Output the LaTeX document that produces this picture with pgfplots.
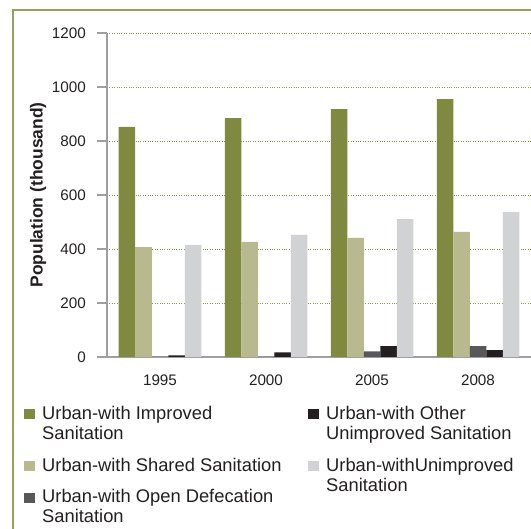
\documentclass[border=0pt]{standalone}
\usepackage{fontspec}
\setmainfont{Liberation Sans}
\usepackage{pgfplots}
\pgfplotsset{compat=1.18}

\definecolor{cImproved}{HTML}{7F8940}
\definecolor{cShared}{HTML}{B8B98E}
\definecolor{cOpen}{HTML}{58585A}
\definecolor{cOther}{HTML}{231F20}
\definecolor{cUnimp}{HTML}{D1D2D4}
\definecolor{cGrid}{HTML}{8F9A50}
\definecolor{cAxis}{HTML}{9D9FA2}
\definecolor{cFrame}{HTML}{98A05C}
\definecolor{cText}{HTML}{231F20}

\pgfplotsset{
  sqleg/.style={legend image code/.code={\fill[##1, draw=none] (0bp,0bp) rectangle (11bp,10bp);}},
  legfont/.style={font=\fontsize{18.4}{20}\selectfont},
}

\begin{document}
\begin{tikzpicture}
\useasboundingbox (0,0) rectangle (531bp,529bp);
\draw[cFrame, line width=2bp] (13bp,0bp) -- (13bp,519bp) -- (531bp,519bp);

\begin{axis}[
    at={(107bp,172bp)}, anchor=south west,
    scale only axis,
    width=424bp, height=324bp,
    ybar=0pt, bar width=16.5bp,
    xmin=-0.5, xmax=3.5,
    ymin=0, ymax=1200,
    xtick={0,1,2,3},
    xticklabels={1995,2000,2005,2008},
    ytick={0,200,400,600,800,1000,1200},
    axis x line=bottom, axis y line=left,
    axis line style={-, cAxis, line width=2bp},
    tick align=outside,
    major tick length=10bp,
    xtick style={draw=none},
    ytick style={cAxis, line width=2bp},
    ymajorgrids,
    grid style={cGrid, dotted, line width=0.8bp},
    tick label style={font=\fontsize{15.3}{18}\selectfont, text=cText},
    /pgf/number format/assume math mode=true,
    /pgf/number format/1000 sep={},
    yticklabel style={anchor=east, inner sep=0pt, xshift=-11bp},
    xticklabel style={anchor=center, inner sep=0pt, yshift=-13.2bp},
    ylabel={\textbf{Population (thousand)}},
    ylabel style={font=\fontsize{17.5}{20}\selectfont, text=cText,
                  at={(axis description cs:-0.1627,0.5)}, anchor=center},
    sqleg,
    legend style={at={(axis description cs:-0.1958,-0.145)}, anchor=north west,
                  draw=none, fill=none,
                  inner sep=0pt, row sep=13bp, column sep=5bp,
                  legfont, text=cText,
                  cells={anchor=base west, inner sep=0pt}},
  ]
  \addplot[fill=cImproved, draw=none, bar shift=-33bp] coordinates {(0,852) (1,885) (2,918) (3,955)};
  \addplot[fill=cShared, draw=none, bar shift=-16.5bp] coordinates {(0,407) (1,426) (2,441) (3,463)};
  \addplot[fill=cOpen, draw=none, bar shift=0bp] coordinates {(0,0) (1,0) (2,21) (3,40)};
  \addplot[fill=cOther, draw=none, bar shift=16.5bp] coordinates {(0,6) (1,17) (2,40) (3,25)};
  \addplot[fill=cUnimp, draw=none, bar shift=33bp] coordinates {(0,415) (1,452) (2,511) (3,537)};
  \legend{}
\end{axis}

\begin{axis}[
    at={(107bp,172bp)}, anchor=south west,
    scale only axis,
    width=424bp, height=324bp,
    xmin=0, xmax=1, ymin=0, ymax=1,
    hide axis,
    sqleg,
    legend style={at={(axis description cs:-0.1958,-0.145)}, anchor=north west,
                  draw=none, fill=none,
                  inner sep=0pt, row sep=13bp, column sep=5bp,
                  legfont, text=cText,
                  cells={anchor=base west, inner sep=0pt}},
  ]
  \addlegendimage{fill=cImproved, yshift=20bp}
  \addlegendentry[align=left]{Urban-with Improved\\Sanitation}
  \addlegendimage{fill=cShared}
  \addlegendentry{Urban-with Shared Sanitation}
  \addlegendimage{fill=cOpen, yshift=20bp}
  \addlegendentry[align=left]{Urban-with Open Defecation\\Sanitation}
\end{axis}

\begin{axis}[
    at={(107bp,172bp)}, anchor=south west,
    scale only axis,
    width=424bp, height=324bp,
    xmin=0, xmax=1, ymin=0, ymax=1,
    hide axis,
    sqleg,
    legend style={at={(axis description cs:0.474,-0.145)}, anchor=north west,
                  draw=none, fill=none,
                  inner sep=0pt, row sep=13bp, column sep=5bp,
                  legfont, text=cText,
                  cells={anchor=base west, inner sep=0pt}},
  ]
  \addlegendimage{fill=cOther, yshift=20bp}
  \addlegendentry[align=left]{Urban-with Other\\Unimproved Sanitation}
  \addlegendimage{fill=cUnimp, yshift=20bp}
  \addlegendentry[align=left]{Urban-withUnimproved\\Sanitation}
\end{axis}
\end{tikzpicture}
\end{document}
